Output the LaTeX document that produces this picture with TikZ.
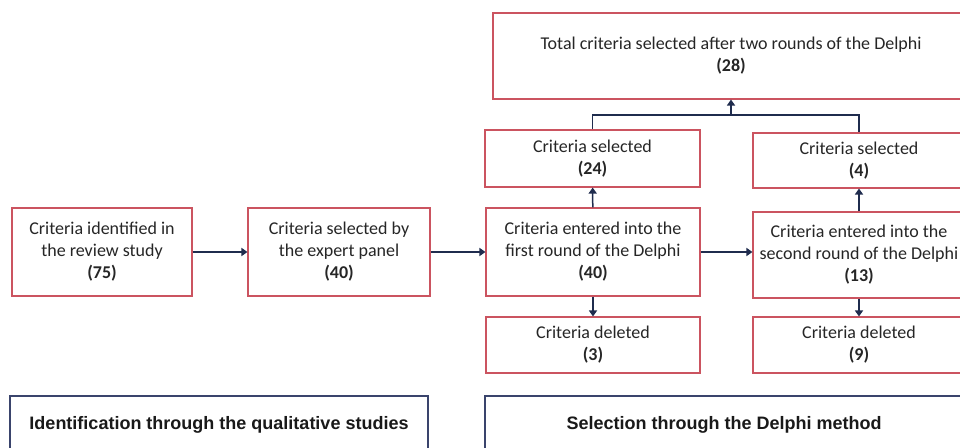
\documentclass[tikz,border=0pt]{standalone}
\usepackage{fontspec}
\setmainfont{Carlito}
\newfontfamily\phasefont{Liberation Sans}
\usetikzlibrary{arrows.meta}
\definecolor{boxred}{RGB}{203,84,96}
\definecolor{linknavy}{RGB}{31,44,78}
\definecolor{phaseblue}{RGB}{58,68,108}
\tikzset{
  stepbox/.style={draw=boxred, line width=1.1pt, fill=white, align=center,
    font=\fontsize{18}{22}\selectfont, inner sep=0pt, text=black!85},
  phasebox/.style={draw=phaseblue, line width=1.4pt, align=center,
    font=\phasefont\bfseries\fontsize{18}{21}\selectfont, inner sep=0pt, text=black!90},
  link/.style={draw=linknavy, line width=1.5pt},
  arr/.style={link, -{Triangle[length=6pt, width=8pt]}},
}
\begin{document}
\begin{tikzpicture}[x=1pt, y=-1pt]
  \clip (0,0) rectangle (960,447);
  \fill[white] (0,0) rectangle (960,447);

  % identification phase
  \node[stepbox, minimum width=180pt, minimum height=88pt] (review) at (102,252)
    {Criteria identified in\\the review study\\\textbf{(75)}};
  \node[stepbox, minimum width=182pt, minimum height=88pt] (panel) at (339,252)
    {Criteria selected by\\the expert panel\\\textbf{(40)}};

  % Delphi rounds
  \node[stepbox, minimum width=214pt, minimum height=88pt] (round1) at (593,252)
    {Criteria entered into the\\first round of the Delphi\\\textbf{(40)}};
  \node[stepbox, minimum width=212pt, minimum height=86pt] (round2) at (859,255)
    {Criteria entered into the\\second round of the Delphi\\\textbf{(13)}};
  \node[stepbox, minimum width=215pt, minimum height=57pt] (sel1) at (592.5,158.5)
    {Criteria selected\\\textbf{(24)}};
  \node[stepbox, minimum width=212pt, minimum height=55pt] (sel2) at (859,160.5)
    {Criteria selected\\\textbf{(4)}};
  \node[stepbox, minimum width=214pt, minimum height=56pt] (del1) at (593,345)
    {Criteria deleted\\\textbf{(3)}};
  \node[stepbox, minimum width=212pt, minimum height=56pt] (del2) at (859,345)
    {Criteria deleted\\\textbf{(9)}};
  \node[stepbox, minimum width=476pt, minimum height=86pt] (total) at (731,56)
    {Total criteria selected after two rounds of the Delphi\\\textbf{(28)}};

  % phase labels
  \node[phasebox, minimum width=418pt, minimum height=58pt] (phaseA) at (219,425)
    {Identification through the qualitative studies};
  \node[phasebox, minimum width=478pt, minimum height=58pt] (phaseB) at (724,425)
    {Selection through the Delphi method};

  % connectors
  \draw[arr] (review) -- (panel);
  \draw[arr] (panel) -- (round1);
  \draw[arr] (round1.east) -- (round2.west |- round1.east);
  \draw[arr] (round1) -- (sel1);
  \draw[arr] (round2) -- (sel2);
  \draw[arr] (round1) -- (del1);
  \draw[arr] (round2) -- (del2);
  \coordinate (join) at (731,115);
  \draw[link] (sel1.north) |- (join) -| (sel2.north);
  \draw[arr] (join) -- (total);
\end{tikzpicture}
\end{document}
